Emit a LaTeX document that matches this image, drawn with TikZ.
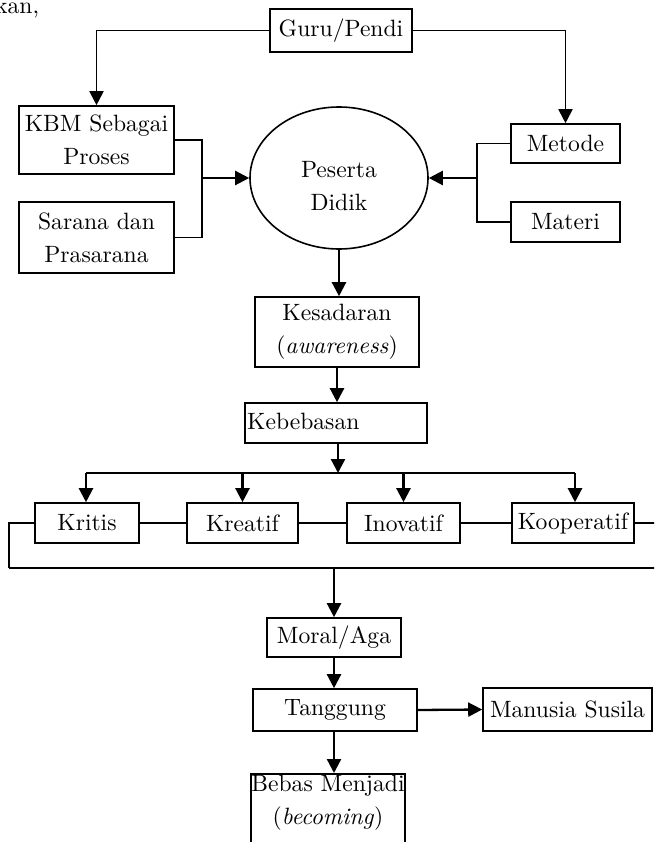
\documentclass[tikz,border=0pt]{standalone}
\usepackage{fontspec}
\setmainfont{lmroman10-regular}[Extension=.otf,ItalicFont=lmroman10-italic]
\usetikzlibrary{arrows.meta,shapes.geometric}
\newcommand\dfont{\fontsize{23.6}{33}\selectfont}
\begin{document}
\begin{tikzpicture}[x=1pt,y=-1pt,
  box/.style={draw,line width=1.6pt,inner sep=0pt,align=center,font=\dfont},
  txt/.style={inner sep=0pt,align=center,font=\dfont},
  arr/.style={line width=2.3pt,-{Triangle[width=14pt,length=14pt]}},
  thick line/.style={line width=2.1pt},
  thin line/.style={line width=1.4pt}]
\clip (0,0) rectangle (654,842);
\fill[white] (0,0) rectangle (654,842);

\node[txt,anchor=base west] (kan) at (-5,14) {kan,};

\node[box,minimum width=142pt,minimum height=43pt] (guru) at (341,30.5) {Guru/Pendi};
\node[box,minimum width=155pt,minimum height=68pt] (kbm) at (96.5,140) {KBM Sebagai\\Proses};
\node[box,minimum width=155pt,minimum height=71pt] (sarana) at (96.5,237.5) {Sarana dan\\Prasarana};
\node[draw,line width=1.6pt,ellipse,minimum width=178pt,minimum height=142pt,inner sep=0pt] (peserta) at (339,178) {};
\node[txt] (pesertatext) at (339,186) {Peserta\\Didik};
\node[box,minimum width=109pt,minimum height=39pt] (metode) at (565.5,143.5) {Metode};
\node[box,minimum width=109pt,minimum height=40pt] (materi) at (565.5,222) {Materi};
\node[box,minimum width=164pt,minimum height=70pt] (kesadaran) at (337,332) {Kesadaran\\(\textit{awareness})};
\node[box,minimum width=182pt,minimum height=40pt] (kebebasan) at (336,423) {};
\node[txt,anchor=west] (kebebasantext) at (247,421) {Kebebasan};
\node[box,minimum width=104pt,minimum height=40pt] (kritis) at (87,523) {Kritis};
\node[box,minimum width=111pt,minimum height=40pt] (kreatif) at (242.5,523) {Kreatif};
\node[box,minimum width=113pt,minimum height=40pt] (inovatif) at (403.5,523) {Inovatif};
\node[box,minimum width=122pt,minimum height=40pt] (kooperatif) at (573,523) {Kooperatif};
\node[box,minimum width=134pt,minimum height=39pt] (moral) at (334,637.5) {Moral/Aga};
\node[box,minimum width=164pt,minimum height=42pt] (tanggung) at (335,710) {Tanggung};
\node[box,minimum width=169pt,minimum height=43pt] (manusia) at (567.5,709.5) {Manusia Susila};
\node[box,anchor=north,minimum width=154pt,minimum height=100pt] (bebas) at (328,773) {};
\node[txt] (bebastext) at (328,803) {Bebas Menjadi\\(\textit{becoming})};

\coordinate (ljoin) at (202,178);
\coordinate (rjoin) at (477,178);
\coordinate (bar) at (338,473);
\coordinate (barL) at (86,473);
\coordinate (barR) at (575,473);
\coordinate (lowL) at (9,568);
\coordinate (lowM) at (334,568);
\coordinate (lowR) at (660,568);
\coordinate (rightend) at (660,523);

% Guru branches
\draw[arr,line width=1.9pt] (guru.west) -| (kbm.north);
\draw[arr,line width=1.9pt] (guru.east) -| (metode.north);

% left bracket
\draw[thin line] (kbm.east) -| (ljoin) |- (sarana.east);
\draw[arr] (ljoin) -- (peserta.west);
% right bracket
\draw[thin line] (metode.west) -| (rjoin) |- (materi.west);
\draw[arr] (rjoin) -- (peserta.east);

% main flow
\draw[arr] (peserta.south) -- (peserta.south |- kesadaran.north);
\draw[arr] (kesadaran.south) -- (kesadaran.south |- kebebasan.north);
\draw[arr] (kebebasan.south -| bar) -- (bar);
\draw[thick line] (barL) -- (barR);
\draw[arr] (barL) -- (barL |- kritis.north);
\draw[arr] (kreatif.north |- bar) -- (kreatif.north);
\draw[arr] (inovatif.north |- bar) -- (inovatif.north);
\draw[arr] (barR) -- (barR |- kooperatif.north);

% horizontal links
\draw[thin line] (kritis.east) -- (kreatif.west);
\draw[thin line] (kreatif.east) -- (inovatif.west);
\draw[thin line] (inovatif.east) -- (kooperatif.west);
\draw[thin line] (kooperatif.east) -- (rightend);
\draw[thin line] (kritis.west) -| (lowL);
\draw[thick line] (lowL) -- (lowR);

\draw[arr] (lowM) -- (lowM |- moral.north);
\draw[arr] (moral.south) -- (moral.south |- tanggung.north);
\draw[arr] (tanggung.east) -- (manusia.west);
\draw[arr] (tanggung.south -| lowM) -- (lowM |- bebas.north);
\end{tikzpicture}
\end{document}
